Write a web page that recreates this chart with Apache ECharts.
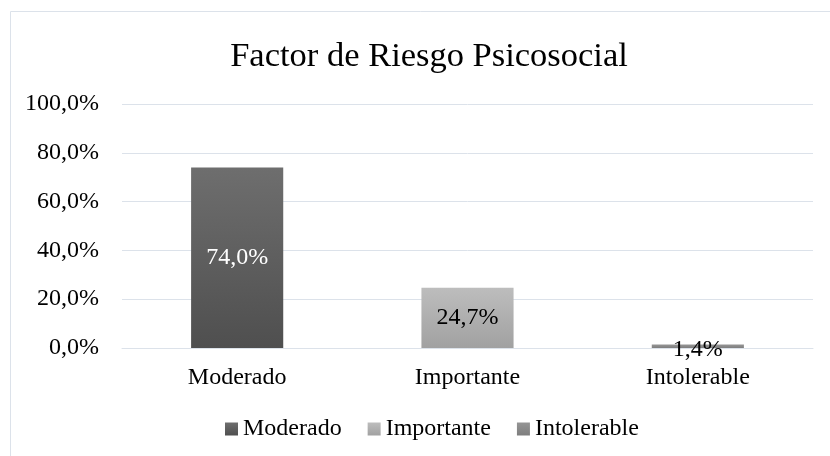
<!DOCTYPE html>
<html>
<head>
<meta charset="utf-8">
<script src="https://cdn.jsdelivr.net/npm/echarts@6/dist/echarts.min.js"></script>
<style>
  html, body { margin: 0; padding: 0; background: #ffffff; }
  #chart { width: 830px; height: 456px; }
</style>
</head>
<body>
<div id="chart"></div>
<script>
// Risk levels and their share of respondents (%)
const categories = ['Moderado', 'Importante', 'Intolerable'];
const moderado = [74.0, '-', '-'];
const importante = ['-', 24.7, '-'];
const intolerable = ['-', '-', 1.4];
const yTicks = [0, 20, 40, 60, 80, 100];

const FONT = "'Liberation Serif', 'Times New Roman', serif";

function pct(v) {
  return Number(v).toFixed(1).replace('.', ',') + '%';
}

function vGrad(top, bottom) {
  return new echarts.graphic.LinearGradient(0, 0, 0, 1, [
    { offset: 0, color: top },
    { offset: 1, color: bottom }
  ]);
}

function barSeries(name, data, top, bottom, labelColor, offset) {
  return {
    name: name,
    type: 'bar',
    stack: 'risk',
    data: data,
    barWidth: '40%',
    itemStyle: { color: vGrad(top, bottom) },
    label: {
      show: true,
      position: 'inside',
      offset: offset || [0, 0],
      color: labelColor,
      fontFamily: FONT,
      fontSize: 24,
      formatter: p => pct(p.value)
    }
  };
}

const chart = echarts.init(document.getElementById('chart'), null, { renderer: 'canvas' });

chart.setOption({
  animation: false,
  backgroundColor: '#ffffff',
  graphic: [{
    type: 'rect',
    shape: { x: 10.5, y: 11.5, width: 840, height: 460 },
    style: { fill: 'none', stroke: '#dce2ea', lineWidth: 1 },
    silent: true,
    z: -1
  }],
  title: {
    text: 'Factor de Riesgo Psicosocial',
    left: 424,
    textAlign: 'center',
    top: 34,
    textStyle: { fontFamily: FONT, fontSize: 34.5, fontWeight: 'normal', color: '#000000' }
  },
  grid: { left: 122, right: 17, top: 104, bottom: 108, containLabel: false },
  xAxis: {
    type: 'category',
    data: categories,
    axisLine: { show: true, lineStyle: { color: '#dce2ea', width: 1 } },
    axisTick: { show: false },
    axisLabel: { fontFamily: FONT, fontSize: 24, color: '#000000', margin: 18 }
  },
  yAxis: {
    type: 'value',
    min: yTicks[0],
    max: yTicks[yTicks.length - 1],
    interval: yTicks[1] - yTicks[0],
    axisLine: { show: false },
    axisTick: { show: false },
    splitLine: { lineStyle: { color: '#dce2ea', width: 1 } },
    axisLabel: { fontFamily: FONT, fontSize: 24, color: '#000000', margin: 23, formatter: v => pct(v) }
  },
  legend: {
    bottom: 10,
    left: 220,
    itemWidth: 13,
    itemHeight: 13,
    itemGap: 26,
    icon: 'rect',
    textStyle: { fontFamily: FONT, fontSize: 24, color: '#000000' },
    data: categories
  },
  series: [
    barSeries('Moderado', moderado, '#6e6e6e', '#4f4f4f', '#ffffff'),
    barSeries('Importante', importante, '#bdbdbd', '#a1a1a1', '#000000'),
    barSeries('Intolerable', intolerable, '#959595', '#7e7e7e', '#000000', [0, 3])
  ]
});
</script>
</body>
</html>
